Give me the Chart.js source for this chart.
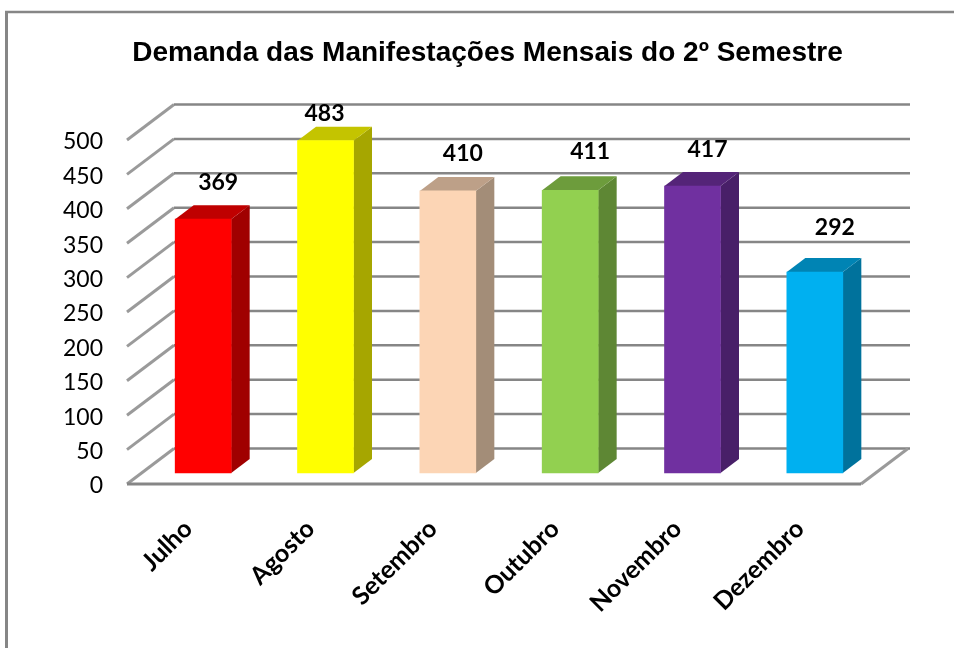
<!DOCTYPE html>
<html lang="pt">
<head>
<meta charset="utf-8">
<title>Demanda das Manifestações Mensais do 2º Semestre</title>
<style>
html,body{margin:0;padding:0;background:#fff;width:954px;height:648px;overflow:hidden}
canvas{display:block}
</style>
<script src="https://cdn.jsdelivr.net/npm/chart.js@4"></script>
</head>
<body>
<canvas id="c" width="954" height="648"></canvas>
<script>
const titleText = "Demanda das Manifestações Mensais do 2º Semestre";
const months = ["Julho","Agosto","Setembro","Outubro","Novembro","Dezembro"];
const demand = [369,483,410,411,417,292];
const frontColors = ["#FF0000","#FFFF00","#FCD5B5","#92D050","#7030A0","#00B0F0"];
const topColors = ["#BF0000","#C4C400","#BDA088","#6D9C3C","#542478","#0084B4"];
const sideColors = ["#A00000","#A6A600","#A38D78","#5E8734","#481F68","#00729C"];
const yTicks = [0,50,100,150,200,250,300,350,400,450,500];

// 3D projection of the plot box
const depth = {x:47,y:-35.5};
const barShift = {x:15,y:-11};
const barDepth = {x:18.5,y:-14};
const labelNudgeX = [30,14,30,35,30,35];
const labelNudgeY = [-48,-38,-48,-50,-48,-56];
const gridColor = "#868686";

function poly(ctx,pts,color){
  ctx.beginPath();
  pts.forEach((p,i)=> i?ctx.lineTo(p[0],p[1]):ctx.moveTo(p[0],p[1]));
  ctx.closePath();
  ctx.fillStyle=color;
  ctx.fill();
}
function line(ctx,x1,y1,x2,y2,color,w){
  ctx.beginPath();ctx.moveTo(x1,y1);ctx.lineTo(x2,y2);
  ctx.strokeStyle=color;ctx.lineWidth=w;ctx.stroke();
}

const frame3d = {
  id:"frame3d",
  beforeDraw(chart){
    const ctx=chart.ctx;
    ctx.save();
    ctx.fillStyle="#fff";ctx.fillRect(0,0,chart.width,chart.height);
    line(ctx,6.5,11,6.5,chart.height,gridColor,3);
    line(ctx,5,12,chart.width,12,gridColor,2.5);
    ctx.restore();
  },
  beforeDatasetsDraw(chart){
    const ctx=chart.ctx, y=chart.scales.y, a=chart.chartArea;
    ctx.save();
    ctx.lineCap="butt";
    yTicks.forEach(v=>{
      const py=y.getPixelForValue(v);
      line(ctx,a.left,py,a.left+depth.x,py+depth.y,"#9a9a9a",3);
      line(ctx,a.left+depth.x,py+depth.y,a.right+depth.x+2,py+depth.y,gridColor,2.5);
    });
    const p0=y.getPixelForValue(0);
    line(ctx,a.right,p0,a.right+depth.x,p0+depth.y,"#9a9a9a",3);
    line(ctx,a.left,p0,a.right,p0,gridColor,3);
    ctx.restore();
    ctx.save();
    ctx.translate(barShift.x,barShift.y);
    chart.getDatasetMeta(0).data.forEach((b,i)=>{
      const l=b.x-b.width/2,r=b.x+b.width/2,t=b.y,bs=b.base;
      poly(ctx,[[r,t],[r+barDepth.x,t+barDepth.y],[r+barDepth.x,bs+barDepth.y],[r,bs]],sideColors[i]);
      poly(ctx,[[l,t],[l+barDepth.x,t+barDepth.y],[r+barDepth.x,t+barDepth.y],[r,t]],topColors[i]);
    });
  },
  afterDatasetsDraw(chart){
    const ctx=chart.ctx;
    ctx.restore();
    ctx.save();
    ctx.font="bold 23px Lato";
    ctx.fillStyle="#000";
    ctx.textAlign="center";
    ctx.textBaseline="middle";
    chart.getDatasetMeta(0).data.forEach((b,i)=>{
      ctx.fillText(String(demand[i]),b.x+labelNudgeX[i],b.y+labelNudgeY[i]);
    });
    ctx.restore();
  }
};

new Chart(document.getElementById("c"),{
  type:"bar",
  data:{labels:months,datasets:[{data:demand,backgroundColor:frontColors,borderWidth:0,barThickness:56,clip:false}]},
  plugins:[frame3d],
  options:{
    responsive:false,
    animation:false,
    events:[],
    layout:{padding:{left:21,right:0,top:0,bottom:0}},
    plugins:{
      legend:{display:false},
      tooltip:{enabled:false},
      title:{display:true,text:titleText,color:"#000",
        font:{family:"'Liberation Sans'",size:28,weight:"bold",lineHeight:1.2},
        padding:{top:36,bottom:70.4}}
    },
    scales:{
      x:{
        type:"category",
        grid:{display:false,drawTicks:false},
        border:{display:false},
        ticks:{font:{family:"Lato",size:25,weight:"bold"},color:"#000",minRotation:45,maxRotation:45,padding:30,autoSkip:false},
        afterFit(s){s.height=164;}
      },
      y:{
        type:"linear",min:0,max:500,
        afterBuildTicks(s){s.ticks=yTicks.map(v=>({value:v}));},
        grid:{display:false,drawTicks:false},
        border:{display:false},
        ticks:{font:{family:"Lato",size:23},color:"#000",padding:24,labelOffset:2},
        afterFit(s){s.width=106;}
      },
      spacer:{
        type:"linear",position:"right",display:true,min:0,max:500,
        grid:{display:false,drawTicks:false},
        border:{display:false},
        ticks:{display:false},
        afterFit(s){s.width=93;}
      }
    }
  }
});
</script>
</body>
</html>
